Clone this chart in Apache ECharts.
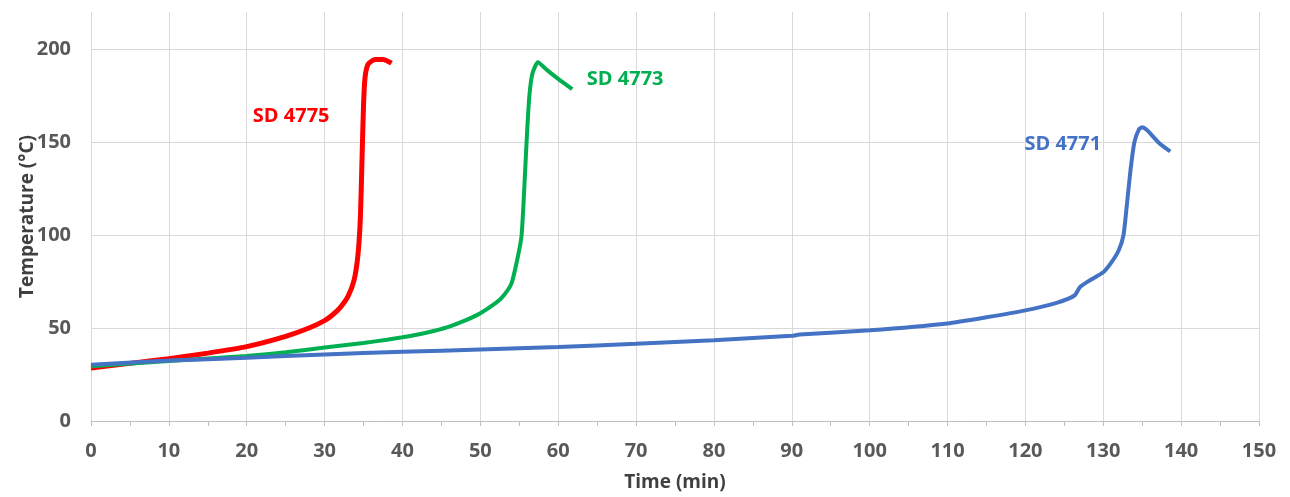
<!DOCTYPE html>
<html><head><meta charset="utf-8">
<script src="https://cdn.jsdelivr.net/npm/echarts@6/dist/echarts.min.js"></script>
<style>html,body{margin:0;padding:0;background:#fff}#c{width:1290px;height:497px}</style>
</head><body><div id="c"></div>
<script>
const xTicks = [0,10,20,30,40,50,60,70,80,90,100,110,120,130,140,150];
const yTicks = [0,50,100,150,200];
const sd4775 = [[0,28.5],[5,31],[10,33.5],[15,36.5],[20,40],[25,45.5],[28,50],[30,54],[31,57],[32,61],[33,67],[33.8,76],[34.3,90],[34.6,110],[34.8,140],[35,170],[35.2,185],[35.6,192],[36.5,194.5],[37.5,194.5],[38.6,192.5]];
const sd4773 = [[0,29.5],[10,32.3],[20,35],[25,37],[30,39.5],[35,42],[38,43.7],[40,45],[42,46.5],[44,48.4],[46,50.8],[48,54],[50,58],[52,63.5],[53,67.5],[54,74],[54.8,88],[55.3,100],[55.7,130],[56,155],[56.3,175],[56.7,187],[57.4,193],[58.5,189],[60,184],[61.8,178.5]];
const sd4771 = [[0,30.3],[10,32.5],[20,34],[30,35.8],[40,37.2],[50,38.5],[60,39.8],[70,41.5],[80,43.5],[90,45.8],[91,46.5],[100,48.8],[110,52.5],[115,55.8],[120,59.5],[124,63.5],[126.3,67.5],[127,72],[128,75],[130,80],[131,85],[132,92],[132.6,100],[133,115],[133.5,135],[134,150],[134.6,157],[135,158],[135.6,156.5],[136.4,153],[137.3,149],[138.6,145]];
const seriesNames = ['SD 4775','SD 4773','SD 4771'];
const labelAt = [[25.7,164],[68.6,184],[124.8,149]];
const colors = ['#FF0000','#00B050','#4472C4'];
const font = '"Open Sans", "Noto Sans", sans-serif';
const chart = echarts.init(document.getElementById('c'));
const datasets = [sd4775, sd4773, sd4771];
chart.setOption({
  animation:false,
  backgroundColor:'#fff',
  grid:{left:91,right:31,top:12,bottom:76},
  xAxis:{type:'value',min:xTicks[0],max:xTicks[xTicks.length-1],interval:10,
    name:'Time (min)',nameLocation:'middle',nameGap:52,nameMoveOverlap:false,
    nameTextStyle:{fontFamily:font,fontWeight:'bold',fontSize:19,color:'#404040'},
    axisLine:{lineStyle:{color:'#bfbfbf',width:1}},
    axisTick:{show:true,length:5,lineStyle:{color:'#bfbfbf'}},
    minorTick:{show:true,splitNumber:2,length:5,lineStyle:{color:'#bfbfbf'}},
    axisLabel:{fontFamily:font,fontWeight:'bold',fontSize:20,color:'#595959',margin:20},
    splitLine:{show:true,lineStyle:{color:'#d9d9d9',width:1}}},
  yAxis:{type:'value',min:0,max:220,interval:50,
    name:'Temperature (°C)',nameLocation:'middle',nameGap:54,nameMoveOverlap:false,
    nameTextStyle:{fontFamily:font,fontWeight:'bold',fontSize:19,color:'#404040'},
    axisLine:{show:false},axisTick:{show:false},
    axisLabel:{fontFamily:font,fontWeight:'bold',fontSize:20,color:'#595959',margin:20,
      formatter:v=>yTicks.includes(v)?String(v):''},
    splitLine:{show:true,showMaxLine:false,lineStyle:{color:'#d9d9d9',width:1}}},
  series: datasets.map((d,i)=>({
    name:seriesNames[i],type:'line',data:d,showSymbol:false,smooth:0.2,
    lineStyle:{color:colors[i],width:i===0?5:4},
    markPoint:{symbol:'circle',symbolSize:0,
      label:{show:true,formatter:seriesNames[i],fontFamily:font,fontWeight:'bold',fontSize:20,color:colors[i],position:'inside'},
      data:[{coord:labelAt[i]}]}
  }))
});
</script></body></html>
